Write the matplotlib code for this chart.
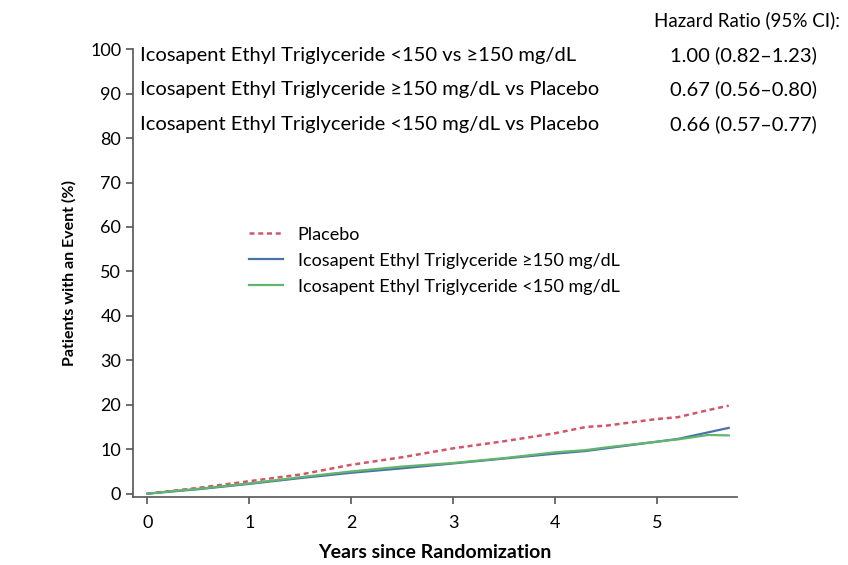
import matplotlib
matplotlib.use("Agg")
import matplotlib.pyplot as plt

plt.rcParams['font.family'] = ['Lato', 'DejaVu Sans']

years = [0, 0.5, 1, 1.5, 2, 2.5, 3, 3.5, 4, 4.3, 4.5, 5, 5.2, 5.5, 5.7]
placebo = [0, 1.3, 2.8, 4.3, 6.5, 8.2, 10.2, 11.8, 13.6, 15.0, 15.3, 16.8, 17.2, 18.8, 19.8]
tg_high = [0, 1.0, 2.2, 3.5, 4.7, 5.7, 6.8, 7.9, 9.0, 9.6, 10.2, 11.7, 12.3, 13.8, 14.8]
tg_low = [0, 1.1, 2.3, 3.7, 5.0, 6.1, 6.9, 8.0, 9.3, 9.8, 10.4, 11.7, 12.2, 13.2, 13.1]

series_labels = ["Placebo",
                 "Icosapent Ethyl Triglyceride \u2265150 mg/dL",
                 "Icosapent Ethyl Triglyceride <150 mg/dL"]
hr_labels = ["Icosapent Ethyl Triglyceride <150 vs \u2265150 mg/dL",
             "Icosapent Ethyl Triglyceride \u2265150 mg/dL vs Placebo",
             "Icosapent Ethyl Triglyceride <150 mg/dL vs Placebo"]
hr_values = ["1.00 (0.82\u20131.23)", "0.67 (0.56\u20130.80)", "0.66 (0.57\u20130.77)"]

fig = plt.figure(figsize=(8.48, 5.65), dpi=100)
ax = fig.add_axes([0.157, 0.120, 0.712, 0.793])

ax.plot(years, placebo, color="#d2566a", lw=1.8, ls=(0, (2, 1.5)), label=series_labels[0])
ax.plot(years, tg_high, color="#4a72a8", lw=1.6, label=series_labels[1])
ax.plot(years, tg_low, color="#62b56c", lw=1.6, label=series_labels[2])

ax.set_xlim(-0.14, 5.78)
ax.set_ylim(-0.8, 100)
ax.set_yticks(range(0, 101, 10))
ax.set_xticks(range(0, 6))
ax.spines['top'].set_visible(False)
ax.spines['right'].set_visible(False)
ax.spines['left'].set_bounds(-0.8, 100)
for s in ['left', 'bottom']:
    ax.spines[s].set_color('#555555')
    ax.spines[s].set_linewidth(1.2)
ax.tick_params(axis='both', labelsize=13, color='#555555', length=5, width=1.2)
ax.tick_params(axis='x', pad=8)

ax.set_ylabel("Patients with an Event (%)", fontsize=11.5, fontweight='bold', labelpad=10)
ax.set_xlabel("Years since Randomization", fontsize=14, fontweight='bold', labelpad=9)

leg = ax.legend(loc='upper left', bbox_to_anchor=(0.165, 0.64), frameon=False,
                fontsize=13, handlelength=1.9, labelspacing=0.55, handletextpad=0.8)

fig.text(0.99, 0.965, "Hazard Ratio (95% CI):", ha='right', va='center', fontsize=13.5)
rows_y = [0.902, 0.842, 0.780]
for lab, val, y in zip(hr_labels, hr_values, rows_y):
    fig.text(0.165, y, lab, ha='left', va='center', fontsize=14.5)
    fig.text(0.790, y, val, ha='left', va='center', fontsize=14.5)

fig.savefig("out.png", dpi=100)
